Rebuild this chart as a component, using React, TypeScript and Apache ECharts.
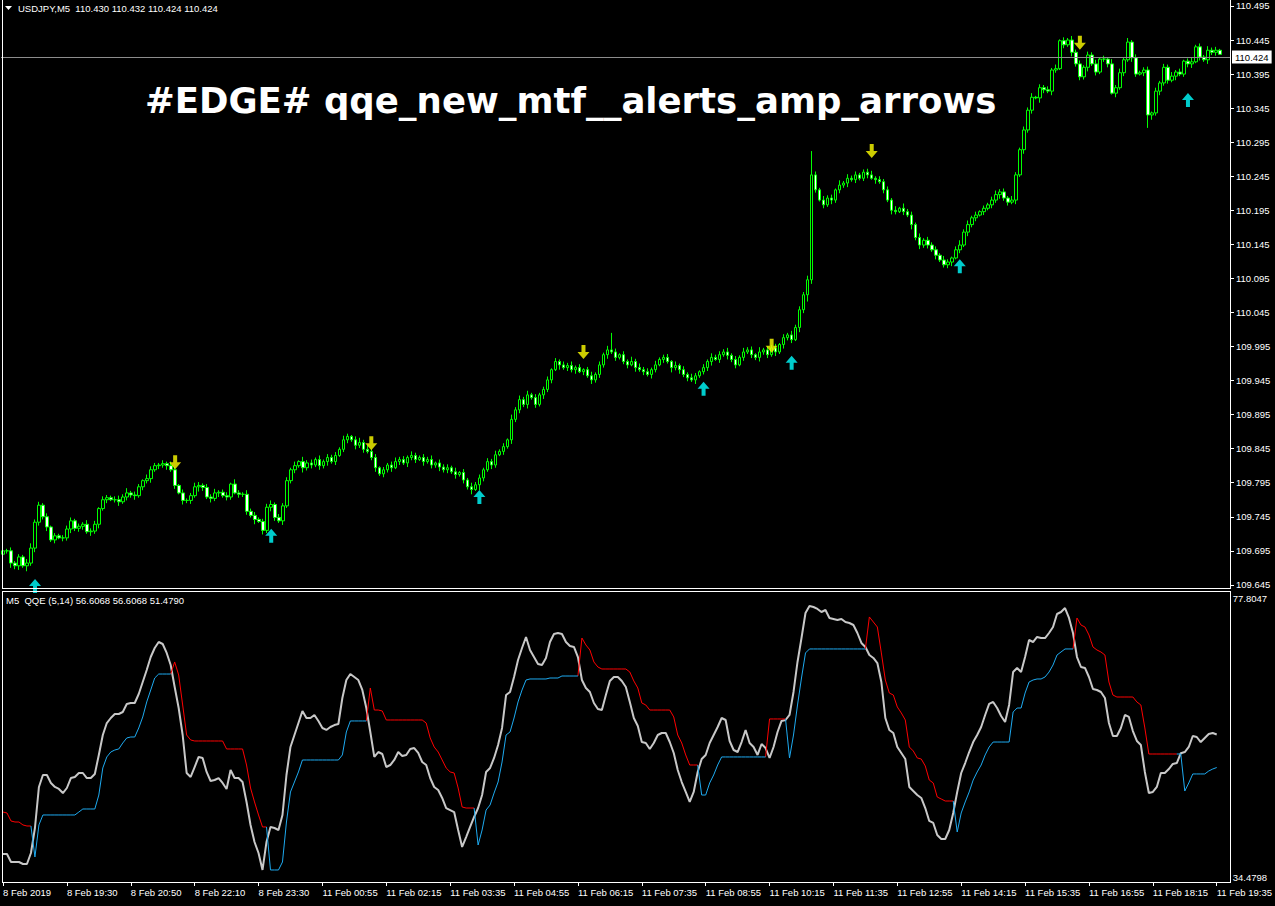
import React, { useEffect, useRef } from 'react';
import * as echarts from 'echarts';

const TIME_LABELS = [
  '8 Feb 2019', '8 Feb 19:30', '8 Feb 20:50', '8 Feb 22:10', '8 Feb 23:30',
  '11 Feb 00:55', '11 Feb 02:15', '11 Feb 03:35', '11 Feb 04:55', '11 Feb 06:15',
  '11 Feb 07:35', '11 Feb 08:55', '11 Feb 10:15', '11 Feb 11:35', '11 Feb 12:55',
  '11 Feb 14:15', '11 Feb 15:35', '11 Feb 16:55', '11 Feb 18:15', '11 Feb 19:35',
];
const BARS_PER_LABEL = 16;
const SLOTS = 307;

const PRICE_TICKS = [
  109.645, 109.695, 109.745, 109.795, 109.845, 109.895, 109.945, 109.995, 110.045,
  110.095, 110.145, 110.195, 110.245, 110.295, 110.345, 110.395, 110.445, 110.495,
];
const PRICE_MIN = 109.6404;
const PRICE_MAX = 110.5038;
const QQE_TICKS = [34.4798, 77.8047];
const LAST_PRICE = 110.424;
const FIRST_OPEN = 109.69;

const CLOSE = [
  109.695, 109.695, 109.677, 109.673, 109.686, 109.673, 109.677, 109.699, 109.737, 109.762,
  109.745, 109.730, 109.711, 109.717, 109.714, 109.714, 109.727, 109.739, 109.728, 109.731,
  109.734, 109.723, 109.724, 109.734, 109.757, 109.770, 109.773, 109.770, 109.770, 109.767,
  109.774, 109.780, 109.777, 109.776, 109.789, 109.798, 109.801, 109.814, 109.820, 109.821,
  109.823, 109.820, 109.814, 109.791, 109.780, 109.769, 109.769, 109.776, 109.789, 109.791,
  109.788, 109.774, 109.772, 109.780, 109.781, 109.776, 109.774, 109.793, 109.780, 109.778,
  109.778, 109.753, 109.747, 109.741, 109.738, 109.725, 109.759, 109.763, 109.744, 109.739,
  109.761, 109.798, 109.814, 109.820, 109.826, 109.817, 109.824, 109.821, 109.829, 109.820,
  109.826, 109.832, 109.826, 109.835, 109.844, 109.858, 109.863, 109.858, 109.850, 109.854,
  109.844, 109.841, 109.832, 109.817, 109.808, 109.814, 109.821, 109.817, 109.826, 109.829,
  109.824, 109.832, 109.835, 109.829, 109.832, 109.826, 109.829, 109.821, 109.824, 109.818,
  109.814, 109.817, 109.811, 109.807, 109.810, 109.799, 109.789, 109.785, 109.792, 109.802,
  109.814, 109.826, 109.821, 109.836, 109.841, 109.848, 109.858, 109.888, 109.902, 109.917,
  109.910, 109.924, 109.920, 109.910, 109.924, 109.932, 109.946, 109.961, 109.973, 109.968,
  109.964, 109.967, 109.961, 109.964, 109.958, 109.961, 109.952, 109.946, 109.954, 109.968,
  109.983, 109.990, 109.987, 109.979, 109.983, 109.973, 109.968, 109.973, 109.964, 109.961,
  109.958, 109.954, 109.961, 109.968, 109.976, 109.979, 109.973, 109.964, 109.967, 109.961,
  109.954, 109.949, 109.946, 109.952, 109.958, 109.964, 109.973, 109.979, 109.976, 109.983,
  109.987, 109.982, 109.976, 109.968, 109.979, 109.987, 109.990, 109.983, 109.979, 109.987,
  109.990, 109.983, 109.993, 109.987, 109.998, 110.008, 110.012, 110.005, 110.023, 110.049,
  110.071, 110.093, 110.247, 110.225, 110.210, 110.203, 110.213, 110.210, 110.225, 110.232,
  110.235, 110.242, 110.240, 110.247, 110.242, 110.251, 110.247, 110.242, 110.240, 110.237,
  110.225, 110.210, 110.195, 110.193, 110.198, 110.193, 110.188, 110.174, 110.155, 110.144,
  110.151, 110.144, 110.137, 110.129, 110.122, 110.115, 110.119, 110.125, 110.137, 110.144,
  110.163, 110.174, 110.184, 110.188, 110.193, 110.198, 110.203, 110.210, 110.218, 110.222,
  110.213, 110.207, 110.210, 110.247, 110.284, 110.313, 110.342, 110.361, 110.360, 110.375,
  110.372, 110.370, 110.401, 110.403, 110.444, 110.438, 110.445, 110.427, 110.410, 110.391,
  110.405, 110.423, 110.410, 110.398, 110.417, 110.417, 110.410, 110.367, 110.375, 110.397,
  110.416, 110.442, 110.419, 110.395, 110.397, 110.401, 110.335, 110.338, 110.370, 110.382,
  110.405, 110.386, 110.392, 110.398, 110.395, 110.414, 110.410, 110.413, 110.435, 110.420,
  110.416, 110.430, 110.427, 110.430, 110.424,
];

// wick lengths per bar, one base-36 character each, in units of 0.001
const UP_WICK = (
  '8353436745 3524345534 3645254356 4735426543 5364253465 3546345274 3645345635 4536274536 ' +
  '3545364257 4635243564 5364354625 4536253645 3546352746 4635345253 5463524635 36p5253746 ' +
  '4536345263 5364253645 4635364527 3546253645 46z5364527 3645345635 4536274536 3545364257 ' +
  '4635243564 5364354625 4536253645 3546352746 4635345253 5463524635 36452'
).replace(/ /g, '');
const DN_WICK = (
  '9475638465 4635254645 5364635246 3546354635 4635264537 5364635425 4537264653 6345374536 ' +
  '4635245364 5346354625 3645263546 4536354728 5364253645 4635364527 3546253645 4635345263 ' +
  '5364253746 4536345625 3645253546 4536364527 5a64253645 4635345263 5364253746 4536345625 ' +
  '3645253546 4536364527 5364253645 4635345263 536425j746 4536345625 36450'
).replace(/ /g, '');

const WHITE = [
  38.05, 38.05, 36.81, 36.81, 36.81, 36.50, 36.50, 38.21, 42.09, 48.46,
  50.32, 50.32, 49.08, 48.46, 48.15, 47.52, 48.30, 49.85, 50.01, 50.63,
  50.63, 49.85, 49.85, 50.48, 53.43, 56.53, 58.39, 59.17, 59.79, 59.79,
  60.10, 61.35, 61.50, 61.50, 62.90, 64.76, 66.63, 68.64, 70.04, 70.97,
  70.66, 69.27, 67.40, 63.99, 60.72, 56.53, 50.63, 50.01, 51.56, 53.12,
  52.96, 50.79, 49.39, 49.54, 49.85, 49.08, 48.15, 51.10, 49.85, 49.85,
  49.23, 46.13, 42.56, 39.92, 38.21, 35.57, 39.92, 42.25, 42.09, 41.78,
  44.11, 50.32, 54.67, 56.53, 58.39, 60.26, 59.17, 59.17, 59.64, 58.71,
  57.62, 57.31, 57.77, 58.08, 58.24, 62.28, 65.07, 66.00, 65.54, 65.07,
  63.52, 60.72, 57.00, 53.12, 53.89, 53.58, 51.56, 51.87, 52.65, 53.89,
  53.27, 53.43, 54.36, 54.51, 53.74, 52.34, 51.87, 49.85, 48.46, 47.99,
  46.75, 45.19, 44.88, 44.57, 41.78, 39.14, 40.69, 42.25, 43.80, 45.19,
  47.21, 50.79, 51.41, 52.96, 54.98, 57.62, 62.74, 63.21, 65.54, 68.18,
  70.04, 71.75, 69.73, 68.64, 67.56, 67.40, 68.49, 70.97, 72.22, 72.37,
  72.22, 70.97, 70.35, 70.20, 68.64, 65.07, 63.83, 63.21, 61.50, 60.57,
  60.41, 62.74, 64.92, 65.54, 65.54, 64.92, 63.99, 61.66, 59.17, 57.93,
  55.44, 55.29, 54.36, 55.29, 56.53, 56.84, 56.84, 55.44, 53.74, 51.10,
  49.23, 47.68, 46.13, 47.68, 50.79, 52.80, 53.43, 55.29, 56.53, 57.77,
  59.17, 58.86, 55.60, 54.20, 53.89, 55.44, 57.31, 55.29, 54.67, 53.43,
  55.13, 54.51, 52.96, 54.67, 57.00, 58.71, 58.86, 59.64, 63.21, 67.87,
  71.59, 75.48, 76.56, 76.41, 76.10, 75.63, 75.94, 74.70, 74.55, 74.39,
  74.55, 74.08, 73.92, 73.61, 72.37, 70.82, 70.20, 68.95, 68.49, 67.71,
  64.76, 59.17, 57.31, 56.84, 54.67, 53.74, 52.80, 48.46, 47.83, 47.21,
  46.75, 45.19, 43.18, 42.87, 41.00, 40.38, 40.38, 41.78, 44.42, 47.68,
  50.63, 52.18, 53.89, 55.44, 56.53, 57.77, 59.64, 61.35, 61.66, 60.72,
  59.48, 58.55, 61.19, 66.31, 66.94, 66.31, 68.64, 71.28, 70.97, 71.75,
  71.59, 71.59, 72.37, 73.30, 75.32, 75.63, 76.25, 74.70, 72.37, 68.64,
  67.09, 66.94, 65.54, 63.67, 63.52, 63.21, 62.28, 58.39, 56.38, 56.38,
  57.62, 59.64, 59.33, 57.15, 55.60, 54.98, 50.79, 47.52, 47.68, 48.46,
  50.63, 50.63, 51.25, 52.03, 52.18, 53.70, 53.89, 54.67, 56.38, 56.22,
  55.44, 56.07, 56.69, 56.84, 56.61,
];

const TRAIL = [
  44.57, 44.42, 43.18, 43.02, 43.02, 42.56, 42.40, 42.40, 37.59, 42.56,
  44.11, 44.11, 44.11, 44.11, 44.11, 44.11, 44.11, 44.11, 44.11, 44.57,
  45.04, 45.04, 45.04, 45.04, 47.21, 51.41, 53.12, 53.89, 54.20, 54.36,
  55.29, 56.07, 56.22, 56.22, 57.62, 59.33, 61.66, 63.52, 65.38, 66.00,
  66.00, 66.00, 66.00, 67.87, 65.85, 61.19, 56.53, 55.76, 55.60, 55.60,
  55.60, 55.60, 55.60, 55.60, 55.60, 55.60, 54.36, 54.36, 54.36, 54.36,
  54.36, 51.87, 48.30, 46.13, 44.11, 42.25, 42.25, 35.57, 35.57, 35.57,
  36.81, 43.02, 47.68, 49.23, 50.79, 52.65, 52.65, 52.65, 52.65, 52.65,
  52.65, 52.65, 52.65, 52.65, 52.65, 53.43, 57.00, 58.71, 58.71, 58.71,
  58.71, 58.71, 63.83, 60.41, 60.41, 60.26, 58.86, 58.86, 58.86, 58.86,
  58.86, 58.86, 58.86, 58.86, 58.86, 58.86, 58.39, 56.07, 54.67, 53.89,
  52.65, 51.41, 50.79, 50.63, 48.30, 45.35, 45.19, 45.19, 45.19, 39.45,
  41.78, 44.88, 45.66, 47.52, 49.23, 52.34, 56.53, 57.00, 59.17, 61.66,
  63.52, 65.07, 65.23, 65.23, 65.23, 65.23, 65.23, 65.38, 65.38, 65.38,
  65.69, 65.69, 65.69, 65.69, 65.69, 71.59, 70.51, 69.73, 67.87, 67.09,
  66.78, 66.78, 66.78, 66.78, 66.78, 66.78, 66.78, 66.31, 64.92, 63.83,
  61.50, 61.19, 60.41, 60.41, 60.41, 60.41, 60.41, 60.41, 59.33, 56.53,
  55.29, 53.43, 51.87, 51.87, 51.87, 47.21, 47.21, 49.08, 50.32, 51.87,
  53.12, 53.12, 53.12, 53.12, 53.12, 53.12, 53.12, 53.12, 53.12, 53.12,
  53.12, 53.12, 59.02, 59.02, 59.02, 59.02, 59.02, 52.96, 56.53, 61.19,
  65.38, 69.27, 69.89, 69.89, 69.89, 69.89, 69.89, 69.89, 69.89, 69.89,
  69.89, 69.89, 69.89, 69.89, 69.89, 69.89, 69.89, 74.86, 74.08, 73.30,
  69.27, 65.07, 63.05, 62.74, 60.88, 59.95, 58.86, 54.67, 54.05, 52.96,
  52.80, 51.72, 49.54, 49.08, 46.90, 46.59, 46.28, 46.28, 46.28, 41.47,
  44.42, 46.13, 47.68, 49.54, 50.79, 51.87, 53.43, 54.67, 55.44, 55.44,
  55.44, 55.44, 55.44, 60.10, 60.72, 60.72, 63.05, 64.76, 65.07, 65.23,
  65.23, 65.54, 66.31, 67.40, 68.95, 69.42, 69.89, 69.89, 69.89, 74.70,
  73.61, 73.30, 72.06, 70.20, 69.73, 69.42, 68.95, 64.76, 62.74, 62.43,
  62.43, 62.43, 62.43, 62.43, 61.66, 61.19, 57.62, 53.58, 53.58, 53.58,
  53.58, 53.58, 53.58, 53.58, 53.58, 53.58, 47.83, 49.08, 50.48, 50.48,
  50.48, 50.48, 50.94, 51.25, 51.48,
];

// [bar index, price]
const ARROWS_DOWN = [
  [43, 109.825], [92, 109.853], [145, 109.987], [192, 109.996], [217, 110.282], [269, 110.441],
];
const ARROWS_UP = [
  [8, 109.6435], [67, 109.717], [119, 109.774], [175, 109.933], [197, 109.971], [239, 110.113], [296, 110.357],
];

const UP_ARROW = 'path://M6,0 L12,7 L8,7 L8,14 L4,14 L4,7 L0,7 Z';
const DOWN_ARROW = 'path://M4,0 L8,0 L8,7 L12,7 L6,14 L0,7 L4,7 Z';

const FONT = '"Liberation Sans", Arial, sans-serif';

function buildOption() {
  const categories: string[] = [];
  for (let i = 0; i < SLOTS; i++) {
    categories.push(i % BARS_PER_LABEL === 0 && TIME_LABELS[i / BARS_PER_LABEL] ? TIME_LABELS[i / BARS_PER_LABEL] : '');
  }
  const candles = CLOSE.map((c, i) => {
    const o = i === 0 ? FIRST_OPEN : CLOSE[i - 1];
    const hi = Math.max(o, c) + parseInt(UP_WICK[i] || '0', 36) * 0.001;
    const lo = Math.min(o, c) - parseInt(DN_WICK[i] || '0', 36) * 0.001;
    return [o, c, lo, hi];
  });
  const isRed = (i: number) => TRAIL[i] > WHITE[i];
  const red: (number | null)[] = [];
  const blue: (number | null)[] = [];
  for (let i = 0; i < TRAIL.length; i++) {
    const nextRed = i + 1 < TRAIL.length ? isRed(i + 1) : isRed(i);
    red.push(isRed(i) || nextRed ? TRAIL[i] : null);
    blue.push(!isRed(i) || !nextRed ? TRAIL[i] : null);
  }
  const tickFn = (idx: number) => idx % BARS_PER_LABEL === 0 && idx / BARS_PER_LABEL < TIME_LABELS.length;
  const white = '#ffffff';
  const line = (x1: number, y1: number, x2: number, y2: number) => ({
    type: 'line', silent: true, z: 50,
    shape: { x1, y1, x2, y2 },
    style: { stroke: white, lineWidth: 1 },
  });

  return {
    animation: false,
    backgroundColor: '#000000',
    grid: [
      { left: 1, right: 45, top: 0, height: 588 },
      { left: 1, right: 45, top: 598, height: 279 },
    ],
    xAxis: [
      {
        type: 'category', gridIndex: 0, data: categories, boundaryGap: true,
        axisLine: { show: false }, axisTick: { show: false }, axisLabel: { show: false }, splitLine: { show: false },
      },
      {
        type: 'category', gridIndex: 1, data: categories, boundaryGap: true, offset: 5,
        axisLine: { show: false },
        axisTick: { show: true, interval: tickFn, alignWithLabel: true, length: 4, lineStyle: { color: white } },
        axisLabel: { show: true, interval: tickFn, align: 'left', color: white, fontSize: 9.5, fontFamily: FONT, margin: 5 },
        splitLine: { show: false },
      },
    ],
    yAxis: [
      {
        type: 'value', gridIndex: 0, position: 'right', min: PRICE_MIN, max: PRICE_MAX, scale: true,
        axisLine: { show: false },
        axisTick: { show: true, customValues: PRICE_TICKS, length: 4, lineStyle: { color: white } },
        axisLabel: { show: true, customValues: PRICE_TICKS, formatter: (v: number) => v.toFixed(3), color: white, fontSize: 9.5, fontFamily: FONT, margin: 6 },
        splitLine: { show: false },
      },
      {
        type: 'value', gridIndex: 1, position: 'right', min: QQE_TICKS[0], max: QQE_TICKS[1], scale: true,
        axisLine: { show: false },
        axisTick: { show: false },
        axisLabel: { show: true, customValues: QQE_TICKS, formatter: (v: number) => v.toFixed(4), color: white, fontSize: 9.5, fontFamily: FONT, margin: 6 },
        splitLine: { show: false },
      },
    ],
    series: [
      {
        type: 'candlestick', xAxisIndex: 0, yAxisIndex: 0, data: candles, barWidth: 3,
        itemStyle: { color: '#000000', color0: '#ffffff', borderColor: '#00ff00', borderColor0: '#00ff00', borderWidth: 1 },
        markLine: {
          silent: true, symbol: 'none', animation: false,
          lineStyle: { color: '#8c8c8c', type: 'solid', width: 1 },
          label: {
            show: true, position: 'end', distance: 2, formatter: LAST_PRICE.toFixed(3),
            backgroundColor: '#ffffff', color: '#000000', padding: [2, 3, 1, 3], fontSize: 9.5, fontFamily: FONT,
          },
          data: [{ yAxis: LAST_PRICE }],
        },
      },
      {
        type: 'scatter', xAxisIndex: 0, yAxisIndex: 0, symbol: DOWN_ARROW, symbolSize: [12, 14],
        itemStyle: { color: '#ffff00' }, data: ARROWS_DOWN, z: 5,
      },
      {
        type: 'scatter', xAxisIndex: 0, yAxisIndex: 0, symbol: UP_ARROW, symbolSize: [12, 14],
        itemStyle: { color: '#00ffff' }, data: ARROWS_UP, z: 5,
      },
      {
        type: 'line', xAxisIndex: 1, yAxisIndex: 1, data: WHITE, showSymbol: false, symbol: 'none',
        lineStyle: { color: '#c8c8c8', width: 2 }, z: 2,
      },
      {
        type: 'line', xAxisIndex: 1, yAxisIndex: 1, data: red, showSymbol: false, symbol: 'none',
        lineStyle: { color: '#ff0000', width: 1 }, z: 3,
      },
      {
        type: 'line', xAxisIndex: 1, yAxisIndex: 1, data: blue, showSymbol: false, symbol: 'none',
        lineStyle: { color: '#1eaaf0', width: 1 }, z: 3,
      },
    ],
    graphic: [
      line(2.5, 0, 2.5, 588.5),
      line(1230.5, 0, 1230.5, 588.5),
      line(2, 588.5, 1231, 588.5),
      line(2, 591.5, 1231, 591.5),
      line(2.5, 591.5, 2.5, 882.5),
      line(1230.5, 591.5, 1230.5, 882.5),
      line(2, 882.5, 1231, 882.5),
      {
        type: 'polygon', silent: true, z: 50,
        shape: { points: [[5, 6], [12, 6], [8.5, 10]] },
        style: { fill: white },
      },
      {
        type: 'text', silent: true, z: 50, x: 18, y: 8,
        style: { text: 'USDJPY,M5  110.430 110.432 110.424 110.424', fill: white, fontSize: 9.5, fontFamily: FONT, verticalAlign: 'middle' },
      },
      {
        type: 'text', silent: true, z: 50, x: 6, y: 600,
        style: { text: 'M5  QQE (5,14) 56.6068 56.6068 51.4790', fill: white, fontSize: 9.5, fontFamily: FONT, verticalAlign: 'middle' },
      },
      {
        type: 'text', silent: true, z: 50, x: 145, y: 100,
        style: { text: '#EDGE# qqe_new_mtf__alerts_amp_arrows', fill: white, fontSize: 35.5, fontWeight: 'bold', fontFamily: '"DejaVu Sans", sans-serif', verticalAlign: 'middle' },
      },
    ],
  };
}

export default function App() {
  const ref = useRef<HTMLDivElement>(null);
  useEffect(() => {
    document.body.style.margin = '0';
    document.body.style.background = '#000';
    const chart = echarts.init(ref.current as HTMLDivElement, undefined, { renderer: 'svg' });
    chart.setOption(buildOption() as any);
    return () => chart.dispose();
  }, []);
  return <div ref={ref} style={{ width: 1275, height: 906, background: '#000' }} />;
}
